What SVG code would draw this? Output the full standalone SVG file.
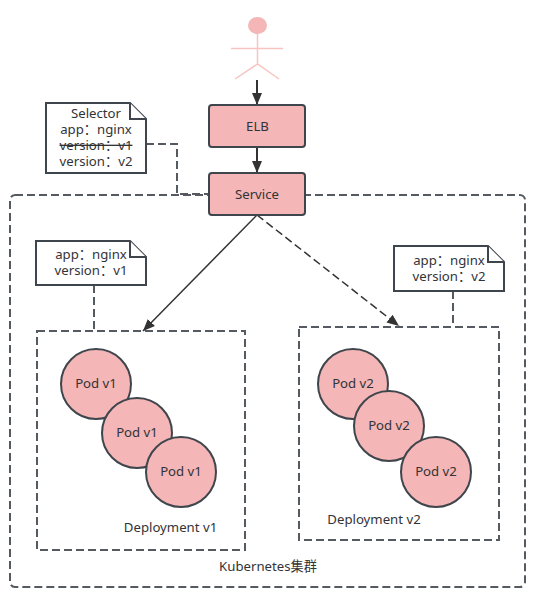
<svg xmlns="http://www.w3.org/2000/svg" width="539" height="599" viewBox="0 0 539 599">
<defs>
<marker id="arrow" markerUnits="userSpaceOnUse" markerWidth="14" markerHeight="12" refX="12" refY="6" orient="auto"><path d="M0,1 L12,6 L0,11 Z" fill="#333"/></marker>
</defs>
<style>
text{font-family:"Noto Sans","Noto Sans CJK SC",sans-serif;font-size:13.2px;fill:#323337;text-anchor:middle}
.box{fill:#f4b6b6;stroke:#3f454c;stroke-width:2}
.pod{fill:#f4b6b6;stroke:#3f454c;stroke-width:2}
.note{fill:#fff;stroke:#3f454c;stroke-width:2}
.dash{fill:none;stroke:#555a61;stroke-width:2;stroke-dasharray:8 4}
.arrow{fill:none;stroke:#333;stroke-width:2;marker-end:url(#arrow)}
.actor{fill:none;stroke:#f7c4c1;stroke-width:1.5}
</style>
<rect width="539" height="599" fill="#fff"/>
<g id="cluster"><rect class="dash" x="10" y="195" width="515" height="392" rx="5"/><text x="268" y="571">Kubernetes集群</text></g>
<g id="deployment-v1"><rect class="dash" x="37" y="331" width="208" height="219"/><text x="170.500" y="532">Deployment v1</text></g>
<g id="deployment-v2"><rect class="dash" x="299" y="327" width="200" height="213"/><text x="374" y="524">Deployment v2</text></g>
<g id="connectors">
<path class="arrow" d="M257,80V105"/>
<path class="arrow" d="M257,147V173"/>
<path class="dash" d="M146,144H177V194H209"/>
<path class="dash" d="M94,285V331"/>
<path class="dash" d="M453,291V327"/>
<path class="arrow" d="M257,215L143,331" style="stroke-width:1.5"/>
<path class="arrow" d="M257,215L399,326" style="stroke-width:1.5;stroke-dasharray:8 4"/>
</g>
<g id="actor"><ellipse cx="257.500" cy="25.500" rx="9.500" ry="8.500" fill="#f4b6b6"/><path class="actor" d="M257.500,34V64M231,48.500H283M235,79L257.500,64L279,79"/></g>
<g id="elb"><rect class="box" x="209" y="105" width="96" height="42" rx="3"/><text x="257.500" y="131">ELB</text></g>
<g id="service"><rect class="box" x="209" y="173" width="96" height="42" rx="3"/><text x="257" y="199">Service</text></g>
<g id="note-selector"><path class="note" d="M46,103H130L146,119V173H46Z"/><path class="note" d="M130,103V119H146"/>
<text x="96" y="118">Selector</text><text x="96" y="134">app：nginx</text><text x="96" y="150" text-decoration="line-through">version：v1</text><text x="96" y="166">version：v2</text></g>
<g id="note-v1"><path class="note" d="M36,241H130L146,257V285H36Z"/><path class="note" d="M130,241V257H146"/>
<text x="91" y="259">app：nginx</text><text x="91" y="275">version：v1</text></g>
<g id="note-v2"><path class="note" d="M394,246H488L504,262V291H394Z"/><path class="note" d="M488,246V262H504"/>
<text x="449" y="265">app：nginx</text><text x="449" y="281">version：v2</text></g>
<g id="pod-v1-1"><circle class="pod" cx="96" cy="384" r="35"/><text x="96" y="388">Pod v1</text></g>
<g id="pod-v1-2"><circle class="pod" cx="137" cy="433" r="35"/><text x="137" y="437">Pod v1</text></g>
<g id="pod-v1-3"><circle class="pod" cx="181" cy="472" r="35"/><text x="181" y="476">Pod v1</text></g>
<g id="pod-v2-1"><circle class="pod" cx="353" cy="384" r="35"/><text x="353" y="388">Pod v2</text></g>
<g id="pod-v2-2"><circle class="pod" cx="389" cy="426" r="35"/><text x="389" y="430">Pod v2</text></g>
<g id="pod-v2-3"><circle class="pod" cx="436" cy="472" r="35"/><text x="436" y="476">Pod v2</text></g>
</svg>
